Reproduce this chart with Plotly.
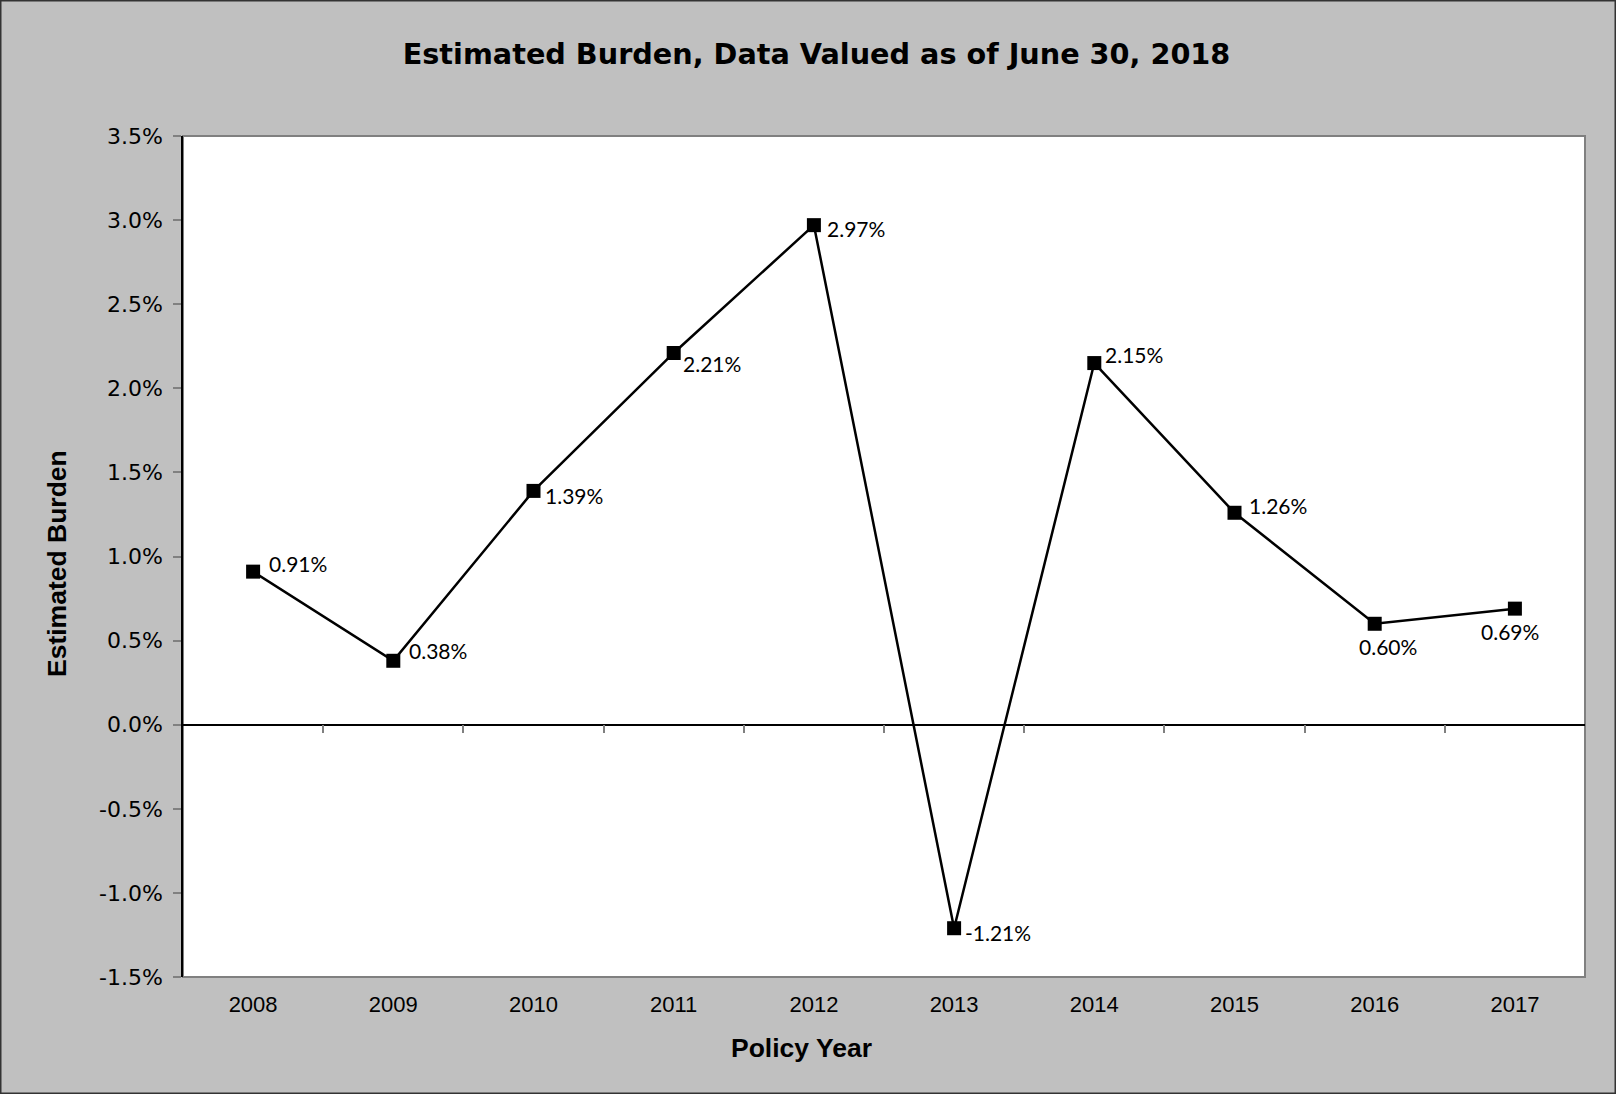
import plotly.graph_objects as go

years = ["2008", "2009", "2010", "2011", "2012", "2013", "2014", "2015", "2016", "2017"]
burden_pct = [0.91, 0.38, 1.39, 2.21, 2.97, -1.21, 2.15, 1.26, 0.60, 0.69]
y_ticks_pct = [-1.5, -1.0, -0.5, 0.0, 0.5, 1.0, 1.5, 2.0, 2.5, 3.0, 3.5]

# label placement styles (per point)
label_anchor = ["left", "left", "left", "left", "left", "left", "left", "left", "center", "center"]
label_dx = [14, 14, 9, 7, 11, 9, 9, 12, 13, -5]
label_dy = [8, 10, -5, -11, -3, -4, 9, 7, -23, -23]

W, H = 1616, 1094
ML, MR, MT, MB = 183, 31, 136, 117
PW, PH = W - ML - MR, H - MT - MB

xs = list(range(len(years)))
vals = [v / 100 for v in burden_pct]

fig = go.Figure()
fig.add_trace(go.Scatter(
    x=xs, y=vals, mode="lines+markers",
    line=dict(color="black", width=2.5),
    marker=dict(symbol="square", size=14, color="black"),
    showlegend=False, hoverinfo="skip",
))
# invisible trace so the zero-crossing category axis (x2) is drawn
fig.add_trace(go.Scatter(
    x=[xs[0]], y=[0], xaxis="x2", mode="markers",
    marker=dict(opacity=0), showlegend=False, hoverinfo="skip",
))

for i, v in enumerate(burden_pct):
    fig.add_annotation(
        x=xs[i], y=vals[i], text=f"{v:.2f}%", showarrow=False,
        xanchor=label_anchor[i], yanchor="middle",
        xshift=label_dx[i], yshift=label_dy[i],
        font=dict(family="Lato", size=21, color="black"),
    )

# axis titles
fig.add_annotation(
    text="<b>Policy Year</b>", xref="paper", yref="paper",
    x=(801 - ML) / PW, y=(PH + MT - 1048) / PH, xanchor="center", yanchor="middle",
    showarrow=False, font=dict(family="Liberation Sans", size=26.5, color="black"),
)
fig.add_annotation(
    text="<b>Estimated Burden</b>", xref="paper", yref="paper", textangle=-90,
    x=(57 - ML) / PW, y=(PH + MT - 564) / PH, xanchor="center", yanchor="middle",
    showarrow=False, font=dict(family="Liberation Sans", size=26.5, color="black"),
)

ymin, ymax = y_ticks_pct[0] / 100, y_ticks_pct[-1] / 100
zero_pos = (0 - ymin) / (ymax - ymin)

fig.update_layout(
    width=W, height=H,
    margin=dict(l=ML, r=MR, t=MT, b=MB, autoexpand=False),
    paper_bgcolor="#C0C0C0", plot_bgcolor="white",
    title=dict(text="<b>Estimated Burden, Data Valued as of June 30, 2018</b>",
               x=816.5 / W, xanchor="center", y=1 - 54 / H, yanchor="middle",
               font=dict(family="DejaVu Sans", size=28.7, color="black")),
    xaxis=dict(
        range=[-0.5, len(years) - 0.5], tickmode="array", tickvals=xs, ticktext=years,
        showgrid=False, zeroline=False, showline=False, ticks="",
        tickfont=dict(family="Liberation Sans", size=22, color="black"),
        ticklabelstandoff=12,
    ),
    xaxis2=dict(
        range=[-0.5, len(years) - 0.5], overlaying="x", anchor="free", position=zero_pos,
        tickmode="array", tickvals=[i + 0.5 for i in xs[:-1]], ticks="outside",
        ticklen=8, tickcolor="#808080", tickwidth=1.5, showticklabels=False,
        showline=True, linecolor="black", linewidth=1.5, showgrid=False, zeroline=False,
    ),
    yaxis=dict(
        range=[ymin, ymax], tickmode="array",
        tickvals=[t / 100 for t in y_ticks_pct],
        ticktext=[f"{t:.1f}%" for t in y_ticks_pct],
        showgrid=False, zeroline=False, showline=True, linecolor="black", linewidth=1.5,
        ticks="outside", ticklen=8, tickcolor="#808080", tickwidth=1.5,
        tickfont=dict(family="DejaVu Sans", size=22, color="black"),
        ticklabelstandoff=6,
    ),
    shapes=[
        dict(type="rect", xref="paper", yref="paper", x0=0, x1=1, y0=0, y1=1,
             line=dict(color="#808080", width=2), layer="below"),
        dict(type="rect", xref="paper", yref="paper",
             x0=-ML / PW, x1=1 + MR / PW, y0=-MB / PH, y1=1 + MT / PH,
             line=dict(color="#333333", width=3), layer="above"),
    ],
)

fig.write_html("out.html", config={"displayModeBar": False},
               post_script="document.body.style.margin='0px';document.body.style.overflow='hidden';")
